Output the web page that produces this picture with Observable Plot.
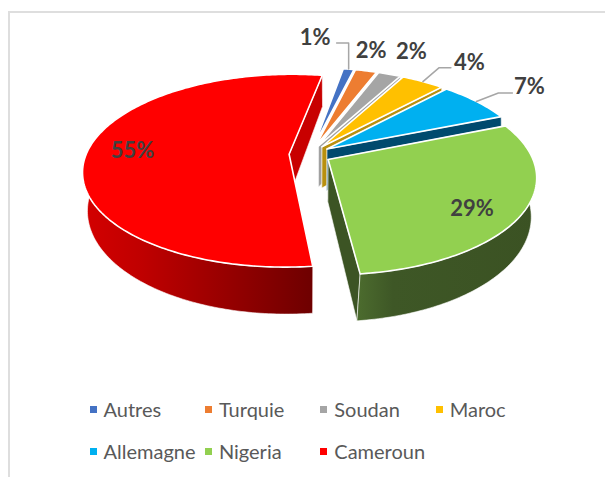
<!DOCTYPE html>
<html lang="fr">
<head>
<meta charset="utf-8">
<script src="https://cdn.jsdelivr.net/npm/d3@7"></script>
<script src="https://cdn.jsdelivr.net/npm/@observablehq/plot@0.6"></script>
<style>
  html, body { margin: 0; padding: 0; background: #fff; width: 605px; height: 477px; overflow: hidden; }
  #frame { position: absolute; left: 8px; top: 11px; right: -4px; bottom: -4px; border: 2px solid #dedede; box-sizing: border-box; }
  #chart { position: absolute; left: 0; top: 0; }
  #legend { position: absolute; left: 89.5px; top: 388px; display: grid; grid-template-columns: repeat(4, 115.4px); grid-auto-rows: 42px;
            font: 20px Lato, sans-serif; color: #595959; }
  #legend div { display: flex; align-items: center; white-space: nowrap; }
  #legend i { width: 7px; height: 7px; margin-right: 7px; flex: none; }
</style>
</head>
<body>
<div id="frame"></div>
<div id="chart"></div>
<div id="legend"></div>
<script>
// Data
const categories = ["Autres", "Turquie", "Soudan", "Maroc", "Allemagne", "Nigeria", "Cameroun"];
const shares = [1, 2, 2.1, 4, 7, 29.3, 54.6];
const colors = ["#4472c4", "#ed7d31", "#a5a5a5", "#ffc000", "#00b0f0", "#92d050", "#ff0000"];
const wallColors = ["#2f4f88", "#a55722", "#a0a0a0", "#b8900f", "#004a6e", "#3c5424", "#c80000"];
const hiddenWalls = ["Autres", "Turquie"];

// Label layout, relative to each slice's rim point
const labelOffsets = [[-33.5, -31], [5, -20], [22, -22], [46.5, -18.5], [53, -14], [-51, -4], [45, 0]];
const leaderBends = {
  Autres: [[0, -26], [-12, -26]],
  Maroc: [[16, -13.8], [28, -13.8]],
  Allemagne: [[22, -8.5], [36, -8.5]]
};

// Pie geometry
const startAngle = 10, explode = 0.103, centerX = 309.5, centerY = 154;
const topPlane = {R: 203, Ry: 93.7, k: 0.171, drop: 0};
const basePlane = {R: 200, Ry: 102.8, k: 0.129, drop: 42};
const rad = (a) => a * Math.PI / 180;
function project(plane, u, v) {
  const w = 1 + plane.k * v;
  return {x: centerX + plane.R * u / w, y: centerY + plane.drop - plane.Ry * v / w};
}
const total = d3.sum(shares);
let running = startAngle;
const slices = categories.map((name, i) => {
  const a0 = running, a1 = running + shares[i] / total * 360;
  running = a1;
  const mid = (a0 + a1) / 2;
  return {name, i, a0, a1, mid, ex: explode * Math.sin(rad(mid)), ey: explode * Math.cos(rad(mid))};
});
const rimPoint = (s, plane, a) => project(plane, s.ex + Math.sin(rad(a)), s.ey + Math.cos(rad(a)));
const apexPoint = (s, plane) => project(plane, s.ex, s.ey);
const arc = (s, plane, a0, a1) => {
  const steps = d3.range(a0, a1, 1).concat([a1]);
  return steps.map((a) => rimPoint(s, plane, a));
};
const closed = (pts) => pts.concat([pts[0]]);

function polygon(points, fill, stroke, strokeWidth) {
  return Plot.line(closed(points), {x: "x", y: "y", fill, stroke, strokeWidth, curve: "linear"});
}

const marks = [];
marks.push(() => {
  const defs = d3.create("svg:defs");
  const grads = {
    wallRed: [[0, "#d40000"], [0.25, "#c00000"], [1, "#6e0000"]],
    wallGreen: [[0, "#4c6c2e"], [0.2, "#3e5726"], [1, "#3b5223"]]
  };
  for (const [id, stops] of Object.entries(grads)) {
    const g = defs.append("linearGradient").attr("id", id);
    stops.forEach(([o, c]) => g.append("stop").attr("offset", o).attr("stop-color", c));
  }
  return defs.node();
});

for (const s of slices) {
  const topApex = apexPoint(s, topPlane), baseApex = apexPoint(s, basePlane);
  const wall = wallColors[s.i];
  // radial walls
  if (!hiddenWalls.includes(s.name)) {
    for (const a of [s.a0, s.a1]) {
      marks.push(polygon([topApex, rimPoint(s, topPlane, a), rimPoint(s, basePlane, a), baseApex], wall, "#fff", 0.6));
    }
  }
  // outer wall (front part only)
  const from = s.a0, to = Math.min(s.a1, 300);
  const wallFill = s.name === "Cameroun" ? "url(#wallRed)" : s.name === "Nigeria" ? "url(#wallGreen)" : wall;
  if (s.name === "Cameroun" || s.name === "Nigeria") {
    marks.push(polygon(arc(s, topPlane, from, to).concat(arc(s, basePlane, from, to).reverse()), wallFill, "#fff", 0.6));
  }
  // top face
  marks.push(polygon([topApex].concat(arc(s, topPlane, s.a0, s.a1)), colors[s.i], "#fff", 1.6));
}

// Leader lines
for (const s of slices) {
  const bends = leaderBends[s.name];
  if (!bends) continue;
  const rim = rimPoint(s, topPlane, s.mid);
  const path = [rim].concat(bends.map(([dx, dy]) => ({x: rim.x + dx, y: rim.y + dy})));
  marks.push(Plot.line(path, {x: "x", y: "y", stroke: "#a6a6a6", strokeWidth: 1.5, curve: "linear"}));
}

// Data labels
const labels = slices.map((s) => {
  const rim = rimPoint(s, topPlane, s.mid);
  const [dx, dy] = labelOffsets[s.i];
  return {x: rim.x + dx, y: rim.y + dy, text: Math.round(shares[s.i]) + "%"};
});
marks.push(Plot.text(labels, {
  x: "x", y: "y", text: "text", fontSize: 22, fontWeight: "bold",
  fontFamily: "Lato, sans-serif", fill: "#404040", textAnchor: "middle"
}));

const chart = Plot.plot({
  width: 605, height: 390,
  margin: 0,
  x: {domain: [0, 605], range: [0, 605], axis: null},
  y: {domain: [0, 390], range: [0, 390], axis: null},
  style: {background: "transparent"},
  marks
});
document.getElementById("chart").append(chart);

// Legend
const legend = document.getElementById("legend");
categories.forEach((name, i) => {
  const item = document.createElement("div");
  const swatch = document.createElement("i");
  swatch.style.background = colors[i];
  item.append(swatch, name);
  legend.append(item);
});
</script>
</body>
</html>
